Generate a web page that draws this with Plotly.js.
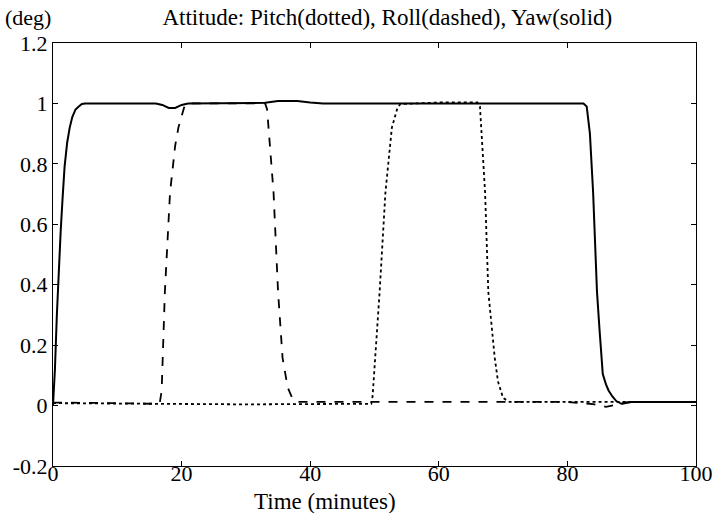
<!DOCTYPE html>
<html>
<head>
<meta charset="utf-8">
<script src="https://cdn.plot.ly/plotly-3.0.1.min.js"></script>
<style>html,body{margin:0;padding:0;background:#fff;}#chart{width:720px;height:513px;}</style>
</head>
<body>
<div id="chart"></div>
<script>
// Yaw (solid)
var yawT = [0,0.3,0.6,0.9,1.2,1.5,1.8,2.2,2.6,3.0,3.5,4.0,4.5,5,10,16,17,18,19,20,21,25,30,33,35,38,40,42,50,60,70,80,82.5,83,83.5,84,84.6,85,85.5,86,86.4,87,87.6,88.4,89,90,95,100];
var yawV = [0,0.12,0.3,0.45,0.58,0.69,0.79,0.87,0.92,0.955,0.98,0.99,0.998,1,1,1,0.995,0.985,0.985,0.995,1,1,1,1.002,1.008,1.008,1.003,1,1,1,1,1,1,0.99,0.9,0.705,0.377,0.25,0.104,0.07,0.05,0.03,0.015,0.006,0.01,0.012,0.012,0.012];
// Roll (dashed)
var rollT = [0,5,10,15,16.6,16.9,17.4,18.2,19,19.5,20.5,21,25,30,33,33.3,34.3,35,35.7,36.5,37.2,37.9,40,50,60,70,80,84,86,88,90,100];
var rollV = [0.01,0.01,0.008,0.006,0.008,0.05,0.377,0.705,0.86,0.92,0.995,1,1,1,1,0.98,0.705,0.377,0.158,0.06,0.025,0.012,0.012,0.012,0.012,0.012,0.012,0.005,-0.004,0.004,0.012,0.012];
// Pitch (dotted)
var pitchT = [0,10,20,30,40,49.5,49.7,50.1,50.8,51.7,52.7,53.5,54,60,66,66.4,67.2,67.7,68.2,68.7,69.2,70,71,75,80,90,100];
var pitchV = [0.008,0.006,0.004,0.004,0.005,0.006,0.03,0.158,0.377,0.705,0.92,0.98,0.998,1.003,1.003,0.99,0.705,0.377,0.268,0.158,0.08,0.025,0.012,0.012,0.012,0.012,0.012];

var yTickVals = [-0.2,0,0.2,0.4,0.6,0.8,1,1.2];
var yTickText = ["-0.2","0","0.2","0.4","0.6","0.8","1","1.2"];
var xTickVals = [0,20,40,60,80,100];
var xTickText = ["0","20","40","60","80","100"];

var serif = "Liberation Serif, Times New Roman, serif";

var traces = [
  {x: pitchT, y: pitchV, mode: 'lines', line: {color: '#000', width: 1.8, dash: 'dot'}, name: 'Pitch'},
  {x: rollT, y: rollV, mode: 'lines', line: {color: '#000', width: 1.8, dash: 'dash'}, name: 'Roll'},
  {x: yawT, y: yawV, mode: 'lines', line: {color: '#000', width: 2}, name: 'Yaw'}
];

var layout = {
  width: 720, height: 513,
  margin: {l: 53, r: 24, t: 43, b: 47},
  paper_bgcolor: '#fff', plot_bgcolor: '#fff',
  showlegend: false,
  font: {family: serif, size: 22, color: '#000'},
  title: {text: 'Attitude: Pitch(dotted), Roll(dashed), Yaw(solid)', font: {family: serif, size: 23, color: '#000'},
          xref: 'container', x: 0.538, xanchor: 'center', yref: 'container', y: 0.966, yanchor: 'middle'},
  xaxis: {range: [0, 100], tickvals: xTickVals, ticktext: xTickText, ticks: 'inside', ticklen: 5, tickcolor: '#000',
          showline: true, linecolor: '#000', linewidth: 1, mirror: 'ticks', showgrid: false, zeroline: false,
          ticklabelstandoff: -12,
          tickfont: {family: serif, size: 22, color: '#000'}},
  yaxis: {range: [-0.2, 1.2], tickvals: yTickVals, ticktext: yTickText, ticks: 'inside', ticklen: 5, tickcolor: '#000',
          showline: true, linecolor: '#000', linewidth: 1, mirror: 'ticks', showgrid: false, zeroline: false,
          tickfont: {family: serif, size: 22, color: '#000'}},
  annotations: [
    {text: '(deg)', xref: 'paper', yref: 'paper', x: 0, y: 1, xanchor: 'right', yanchor: 'middle', xshift: 0, yshift: 26,
     showarrow: false, font: {family: serif, size: 22, color: '#000'}},
    {text: 'Time (minutes)', xref: 'paper', yref: 'paper', x: 0.423, y: 0, xanchor: 'center', yanchor: 'middle', yshift: -35,
     showarrow: false, font: {family: serif, size: 23, color: '#000'}}
  ]
};

Plotly.newPlot('chart', traces, layout, {displayModeBar: false, staticPlot: true});
</script>
</body>
</html>
